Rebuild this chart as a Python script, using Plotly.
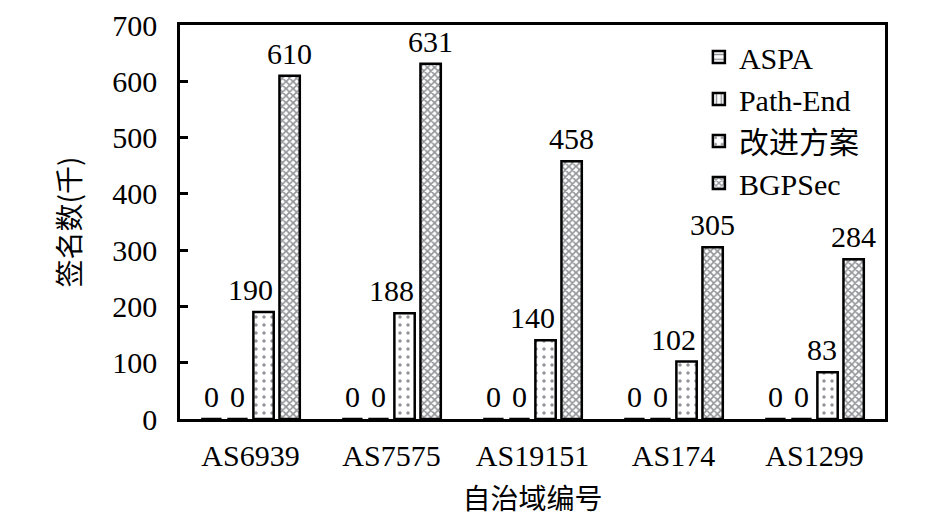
import plotly.graph_objects as go

# 数据
categories = ["AS6939", "AS7575", "AS19151", "AS174", "AS1299"]
aspa = [0, 0, 0, 0, 0]
path_end = [0, 0, 0, 0, 0]
improved = [190, 188, 140, 102, 83]
bgpsec = [610, 631, 458, 305, 284]

# 名称, 数值, 填充图案, 标签水平偏移(px), 标签锚点
series = [
    ("ASPA", aspa, dict(shape="-", size=6, solidity=0.3), -39, "center"),
    ("Path-End", path_end, dict(shape="|", size=6, solidity=0.3), -13, "center"),
    ("改进方案", improved, dict(shape=".", size=8, solidity=0.15), 24, "right"),
    ("BGPSec", bgpsec, dict(shape="x", size=5, solidity=0.55), 39, "center"),
]

font_main = "Liberation Serif, Noto Sans CJK SC"
font_cjk = "Noto Sans CJK SC"

fig = go.Figure()
for name, vals, pat, dx, anchor in series:
    fig.add_trace(go.Bar(
        x=categories, y=vals, name=name, cliponaxis=False,
        marker=dict(color="white", line=dict(color="black", width=2.5),
                    pattern=dict(fgcolor="#262a33", bgcolor="white", **pat)),
    ))
    # 数值标签
    for c, v in zip(categories, vals):
        fig.add_annotation(x=c, y=v, text=str(v), showarrow=False,
                           xanchor=anchor, yanchor="bottom", xshift=dx, yshift=4,
                           font=dict(size=30, color="black", family=font_main))

fig.update_layout(
    width=945, height=524,
    margin=dict(l=172, r=68, t=17, b=113),
    plot_bgcolor="white", paper_bgcolor="white",
    barmode="group", bargap=0.26, bargroupgap=0.22,
    font=dict(family=font_main, size=30, color="black"),
    showlegend=True,
    legend=dict(x=0.736, y=0.985, xanchor="left", yanchor="top",
                font=dict(size=30, family=font_main), bgcolor="rgba(0,0,0,0)",
                itemwidth=30, tracegroupgap=0),
)
fig.update_xaxes(showline=True, linecolor="black", linewidth=2.5, mirror=True,
                 ticks="", tickfont=dict(size=30), automargin=False, ticklabelstandoff=8,
                 title=dict(text="自治域编号", font=dict(size=28, family=font_cjk), standoff=19))
fig.update_yaxes(range=[0, 700], dtick=100, showline=True, linecolor="black", linewidth=2.5,
                 mirror=True, ticks="inside", ticklen=8, tickwidth=2.5, tickcolor="black",
                 showgrid=False, zeroline=False, tickfont=dict(size=30), automargin=False,
                 ticklabelstandoff=14, ticklabeloverflow="allow",
                 title=dict(text="签名数(千)", font=dict(size=28, family=font_cjk), standoff=24))

fig.write_html("out.html")
